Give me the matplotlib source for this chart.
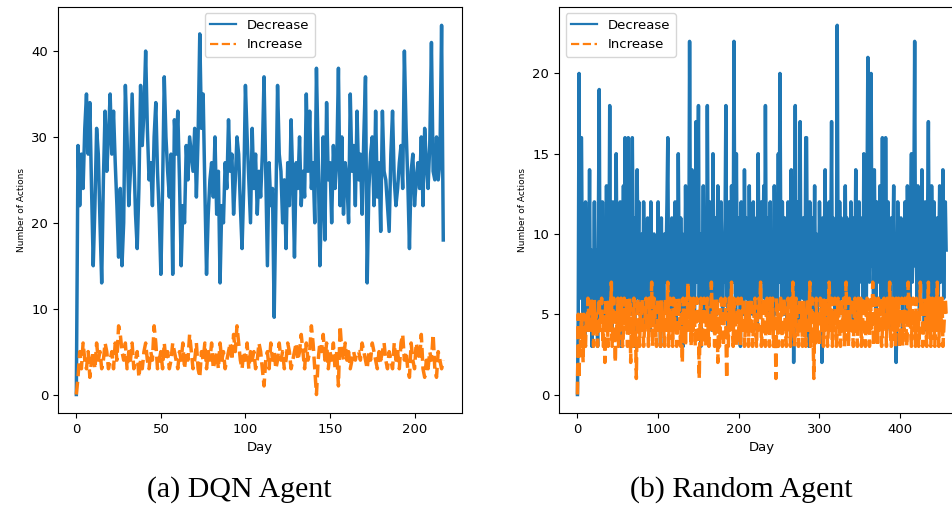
import numpy as np
import matplotlib
matplotlib.use("Agg")
import matplotlib.pyplot as plt

# DQN agent, actions per day
dqn_decrease = [
    0, 29, 22, 28, 24, 31, 35, 28, 34, 24,
    15, 22, 31, 28, 20, 13, 25, 33, 26, 30,
    35, 28, 33, 27, 22, 16, 24, 15, 20, 36,
    30, 22, 26, 35, 28, 21, 17, 24, 36, 29,
    33, 40, 31, 25, 27, 22, 30, 34, 26, 21,
    14, 24, 37, 30, 26, 23, 28, 14, 32, 28,
    33, 25, 15, 22, 20, 29, 25, 30, 28, 26,
    31, 23, 30, 42, 31, 35, 24, 14, 21, 25,
    27, 23, 30, 21, 26, 13, 22, 20, 27, 24,
    32, 26, 28, 21, 25, 30, 28, 22, 17, 24,
    36, 30, 25, 20, 31, 24, 28, 21, 26, 23,
    28, 37, 26, 15, 27, 22, 24, 9, 22, 36,
    28, 26, 20, 25, 17, 27, 22, 32, 25, 16,
    27, 24, 30, 22, 26, 23, 35, 26, 33, 24,
    27, 20, 38, 28, 15, 22, 30, 18, 34, 25,
    27, 20, 29, 24, 27, 38, 22, 30, 21, 27,
    25, 20, 35, 26, 29, 22, 33, 25, 28, 21,
    30, 37, 13, 24, 28, 30, 22, 33, 23, 27,
    19, 33, 26, 25, 22, 19, 28, 33, 25, 22,
    24, 27, 29, 24, 40, 31, 25, 17, 26, 28,
    22, 25, 27, 24, 30, 22, 31, 27, 24, 29,
    41, 26, 25, 30, 25, 27, 43, 18,
]
dqn_increase = [
    0, 2, 5, 3, 6, 4, 3, 5, 2, 4,
    5, 3, 6, 4, 5, 3, 4, 6, 5, 3,
    4, 5, 3, 6, 4, 8, 7, 5, 4, 6,
    3, 5, 4, 6, 3, 4, 5, 2, 4, 3,
    5, 6, 4, 3, 5, 4, 8, 6, 3, 4,
    5, 3, 6, 4, 5, 3, 4, 6, 5, 4,
    3, 5, 4, 6, 3, 5, 4, 7, 5, 3,
    4, 6, 3, 2, 5, 4, 6, 3, 5, 4,
    6, 3, 4, 5, 3, 6, 4, 5, 3, 4,
    5, 6, 4, 7, 5, 8, 6, 4, 3, 5,
    4, 6, 3, 5, 4, 5, 3, 4, 6, 5,
    3, 1, 4, 5, 3, 6, 4, 5, 3, 4,
    6, 4, 5, 3, 4, 6, 5, 3, 4, 5,
    6, 4, 5, 7, 5, 3, 6, 4, 5, 8,
    6, 3, 0, 4, 6, 5, 7, 4, 6, 3,
    5, 4, 6, 3, 5, 1, 8, 5, 4, 6,
    4, 5, 3, 4, 5, 4, 5, 5, 4, 6,
    5, 4, 3, 5, 4, 6, 5, 4, 3, 5,
    4, 5, 6, 4, 3, 5, 4, 3, 6, 4,
    5, 3, 6, 7, 4, 5, 3, 2, 6, 4,
    3, 6, 5, 4, 7, 3, 2, 4, 3, 5,
    4, 7, 3, 2, 5, 4, 3, 4,
]

# random agent, actions per day
rnd_decrease = [
    0, 5, 20, 6, 16, 16, 8, 4, 10, 3, 12, 6, 9, 4, 7, 14, 5, 9, 3, 8,
    6, 12, 4, 9, 7, 3, 11, 19, 6, 10, 5, 12, 8, 4, 9, 6, 13, 5, 10, 7,
    18, 6, 9, 4, 12, 7, 10, 5, 15, 8, 4, 11, 6, 12, 3, 9, 7, 13, 5, 16,
    8, 11, 4, 16, 9, 6, 12, 5, 16, 10, 7, 3, 11, 6, 14, 8, 12, 5, 9, 6,
    10, 4, 12, 7, 9, 5, 8, 11, 6, 9, 4, 12, 7, 8, 5, 10, 6, 9, 4, 8,
    12, 7, 9, 3, 11, 6, 8, 5, 10, 7, 9, 12, 16, 6, 10, 4, 8, 11, 5, 9,
    7, 12, 4, 9, 6, 15, 8, 5, 11, 7, 10, 3, 9, 6, 13, 8, 5, 12, 7, 22,
    10, 6, 14, 8, 11, 5, 9, 17, 7, 12, 18, 6, 10, 3, 9, 7, 13, 5, 11, 8,
    6, 18, 9, 5, 12, 7, 10, 4, 15, 8, 6, 11, 9, 5, 13, 7, 10, 6, 12, 8,
    5, 9, 7, 11, 18, 6, 10, 4, 12, 8, 6, 13, 9, 7, 22, 10, 5, 15, 8, 11,
    6, 9, 3, 12, 7, 10, 5, 14, 8, 11, 6, 9, 4, 13, 7, 10, 8, 5, 12, 7,
    9, 6, 11, 4, 15, 8, 10, 5, 12, 7, 9, 13, 6, 18, 8, 11, 5, 9, 7, 12,
    6, 10, 8, 4, 13, 7, 11, 5, 9, 15, 7, 20, 10, 6, 12, 8, 5, 11, 7, 9,
    4, 12, 8, 10, 6, 14, 7, 11, 2, 9, 18, 8, 6, 12, 9, 4, 17, 7, 10, 6,
    11, 8, 5, 16, 16, 7, 10, 3, 12, 6, 9, 11, 5, 8, 13, 7, 10, 4, 9, 6,
    12, 8, 10, 2, 11, 7, 9, 14, 6, 10, 8, 4, 12, 7, 9, 17, 6, 11, 8, 5,
    10, 7, 23, 9, 5, 12, 8, 11, 6, 10, 4, 9, 13, 7, 11, 5, 8, 10, 6, 12,
    7, 9, 4, 11, 8, 14, 6, 10, 5, 12, 8, 9, 7, 11, 6, 15, 8, 10, 5, 13,
    21, 9, 7, 12, 20, 8, 11, 6, 14, 9, 5, 12, 8, 10, 7, 13, 6, 9, 16, 8,
    11, 6, 16, 9, 5, 12, 8, 10, 4, 11, 7, 9, 13, 6, 10, 2, 5, 12, 7, 9,
    6, 11, 8, 4, 10, 7, 12, 9, 5, 13, 8, 10, 6, 11, 15, 7, 9, 12, 22, 8,
    10, 6, 13, 9, 5, 11, 8, 14, 7, 10, 4, 12, 9, 6, 11, 17, 8, 10, 5, 13,
    9, 7, 12, 6, 10, 8, 11, 5, 9, 13, 7, 10, 8, 14, 6, 11, 12, 9,
]
rnd_increase = [
    0, 5, 1, 4, 3, 5, 4, 2, 5, 4, 3, 5, 4, 6, 5, 4, 5, 6, 4, 5,
    3, 6, 4, 5, 4, 3, 5, 6, 4, 5, 6, 4, 3, 5, 2, 6, 4, 5, 3, 6,
    5, 4, 7, 3, 5, 6, 4, 2, 5, 4, 6, 3, 5, 4, 6, 5, 3, 4, 6, 5,
    4, 6, 3, 5, 4, 6, 2, 5, 4, 3, 6, 5, 4, 1, 5, 6, 4, 3, 5, 4,
    6, 5, 3, 4, 5, 6, 4, 5, 3, 6, 4, 5, 7, 3, 4, 6, 5, 4, 3, 5,
    6, 4, 5, 3, 6, 4, 5, 4, 3, 6, 5, 4, 7, 3, 5, 6, 4, 5, 3, 6,
    4, 5, 6, 3, 4, 5, 6, 4, 3, 5, 2, 6, 4, 5, 3, 6, 4, 7, 5, 4,
    6, 3, 5, 4, 6, 5, 3, 4, 6, 5, 4, 1, 5, 6, 3, 4, 5, 6, 4, 3,
    5, 6, 4, 3, 5, 4, 7, 5, 4, 6, 3, 5, 4, 6, 2, 5, 3, 4, 6, 5,
    4, 3, 5, 6, 4, 1, 5, 3, 6, 4, 5, 7, 4, 3, 6, 5, 4, 3, 5, 6,
    4, 5, 3, 6, 4, 5, 6, 3, 4, 5, 4, 6, 3, 5, 4, 6, 5, 3, 4, 5,
    6, 4, 3, 5, 4, 6, 5, 7, 3, 4, 5, 6, 4, 3, 5, 6, 4, 5, 3, 6,
    4, 5, 6, 3, 4, 5, 1, 6, 4, 3, 5, 4, 6, 5, 3, 4, 6, 5, 4, 3,
    5, 6, 4, 5, 3, 6, 4, 7, 5, 3, 4, 6, 5, 4, 3, 5, 6, 4, 5, 3,
    6, 4, 5, 3, 4, 6, 5, 4, 7, 3, 5, 6, 4, 1, 5, 3, 6, 4, 5, 4,
    3, 6, 5, 4, 6, 3, 5, 4, 6, 5, 3, 4, 7, 5, 4, 6, 3, 5, 4, 6,
    5, 3, 4, 6, 5, 4, 3, 6, 5, 4, 6, 3, 5, 7, 4, 5, 3, 6, 4, 5,
    6, 4, 3, 5, 6, 4, 5, 3, 6, 4, 5, 6, 3, 4, 5, 6, 4, 3, 5, 6,
    4, 5, 3, 6, 5, 4, 7, 3, 5, 6, 4, 5, 3, 6, 4, 5, 6, 3, 4, 5,
    6, 4, 5, 3, 6, 4, 5, 7, 4, 3, 5, 6, 4, 5, 3, 6, 4, 5, 6, 3,
    4, 5, 6, 3, 5, 4, 6, 5, 3, 4, 7, 5, 6, 4, 3, 5, 6, 4, 5, 3,
    6, 4, 5, 3, 4, 7, 5, 6, 3, 4, 5, 6, 4, 3, 5, 7, 4, 6, 3, 5,
    6, 4, 5, 3, 6, 4, 7, 5, 3, 6, 4, 5, 6, 3, 4, 5, 6, 5,
]

captions = ["(a) DQN Agent", "(b) Random Agent"]

fig = plt.figure(figsize=(9.52, 5.2), dpi=100)
ax1 = fig.add_axes([0.0609, 0.2058, 0.424, 0.781])
ax2 = fig.add_axes([0.5872, 0.2058, 0.426, 0.781])  # right plot is cut by the page edge

blue = "#1f77b4"
orange = "#ff7f0e"

for ax, dec, inc, loc in [(ax1, dqn_decrease, dqn_increase, "upper center"),
                          (ax2, rnd_decrease, rnd_increase, "upper left")]:
    ax.plot(np.arange(len(dec)), dec, color=blue, lw=2.5, label="Decrease")
    ax.plot(np.arange(len(inc)), inc, color=orange, lw=2.5, ls="--", label="Increase")
    ax.set_xlabel("Day", fontsize=9.5)
    ax.set_ylabel("Number of Actions", fontsize=6.5)
    ax.tick_params(labelsize=9.5)
    leg = ax.legend(loc=loc, fontsize=9.5)
    for h in leg.get_lines():
        h.set_linewidth(1.6)

ax1.set_xticks([0, 50, 100, 150, 200])
ax2.set_xticks([0, 100, 200, 300, 400])
ax2.set_yticks([0, 5, 10, 15, 20])

fig.text(239 / 952, 1 - 490 / 520, captions[0], ha="center", va="center",
         fontsize=21.5, family="Liberation Serif")
fig.text(741 / 952, 1 - 490 / 520, captions[1], ha="center", va="center",
         fontsize=21.5, family="Liberation Serif")

fig.savefig("out.png", dpi=100)
